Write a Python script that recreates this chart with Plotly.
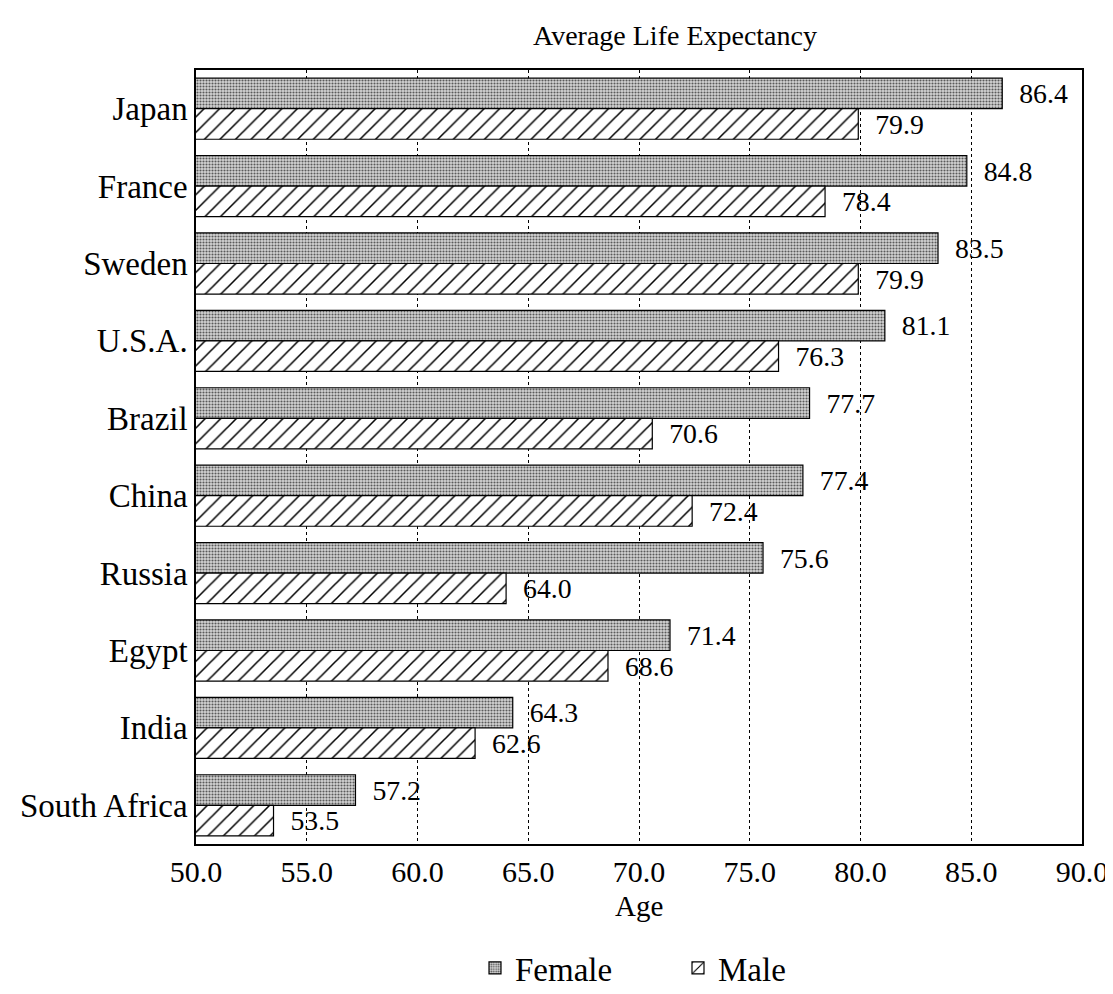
import plotly.graph_objects as go

countries = ["Japan", "France", "Sweden", "U.S.A.", "Brazil", "China", "Russia", "Egypt", "India", "South Africa"]
female = [86.4, 84.8, 83.5, 81.1, 77.7, 77.4, 75.6, 71.4, 64.3, 57.2]
male = [79.9, 78.4, 79.9, 76.3, 70.6, 72.4, 64.0, 68.6, 62.6, 53.5]

FONT = "Liberation Serif"
W, H = 1105, 986

fig = go.Figure()
fig.add_trace(go.Bar(
    y=countries, x=female, orientation="h", name="Female", legend="legend",
    marker=dict(color="#c0c0c0", line=dict(color="black", width=1.2),
                pattern=dict(shape=".", fgcolor="#5a5a5a", bgcolor="#d4d4d4", size=3, solidity=0.4, fillmode="replace")),
    texttemplate="  %{x:.1f}", textposition="outside",
    textfont=dict(family=FONT, size=30, color="black"), cliponaxis=False,
))
fig.add_trace(go.Bar(
    y=countries, x=male, orientation="h", name="Male", legend="legend2",
    marker=dict(color="white", line=dict(color="black", width=1.2),
                pattern=dict(shape="/", fgcolor="black", bgcolor="white", size=11, solidity=0.14, fillmode="replace")),
    texttemplate="  %{x:.1f}", textposition="outside",
    textfont=dict(family=FONT, size=30, color="black"), cliponaxis=False,
))

legend_common = dict(orientation="h", xref="container", xanchor="left",
                     yref="container", y=1 - 960 / H, yanchor="middle",
                     font=dict(family=FONT, size=33, color="black"),
                     bgcolor="rgba(0,0,0,0)")

fig.update_layout(
    width=W, height=H,
    margin=dict(l=188, r=31, t=62, b=150),
    paper_bgcolor="white", plot_bgcolor="white",
    barmode="group", bargap=0.21, bargroupgap=0,
    font=dict(family=FONT, size=30, color="black"),
    title=dict(text="Average Life Expectancy", xref="container", x=667 / W, xanchor="center",
               yref="container", y=1 - 27 / H, yanchor="middle",
               font=dict(family=FONT, size=28, color="black")),
    showlegend=True,
    legend=dict(x=467 / W, **legend_common),
    legend2=dict(x=670 / W, **legend_common),
    annotations=[dict(text="Age", xref="paper", x=0.5, xanchor="center",
                      yref="paper", y=-62 / 774, yanchor="middle", showarrow=False,
                      font=dict(family=FONT, size=29, color="black"))],
)
fig.update_xaxes(
    range=[50, 90], dtick=5, tick0=50, tickformat=".1f",
    showgrid=True, gridcolor="black", griddash="dot", gridwidth=1.2,
    showline=True, linecolor="black", linewidth=1.5, mirror=True,
    ticks="", tickfont=dict(family=FONT, size=30), ticklabeloverflow="allow",
    zeroline=False, automargin=False,
)
fig.update_yaxes(
    autorange="reversed", showline=True, linecolor="black", linewidth=1.5, mirror=True,
    ticks="", tickfont=dict(family=FONT, size=33), showgrid=False, automargin=False,
)

fig.write_html("out.html")
